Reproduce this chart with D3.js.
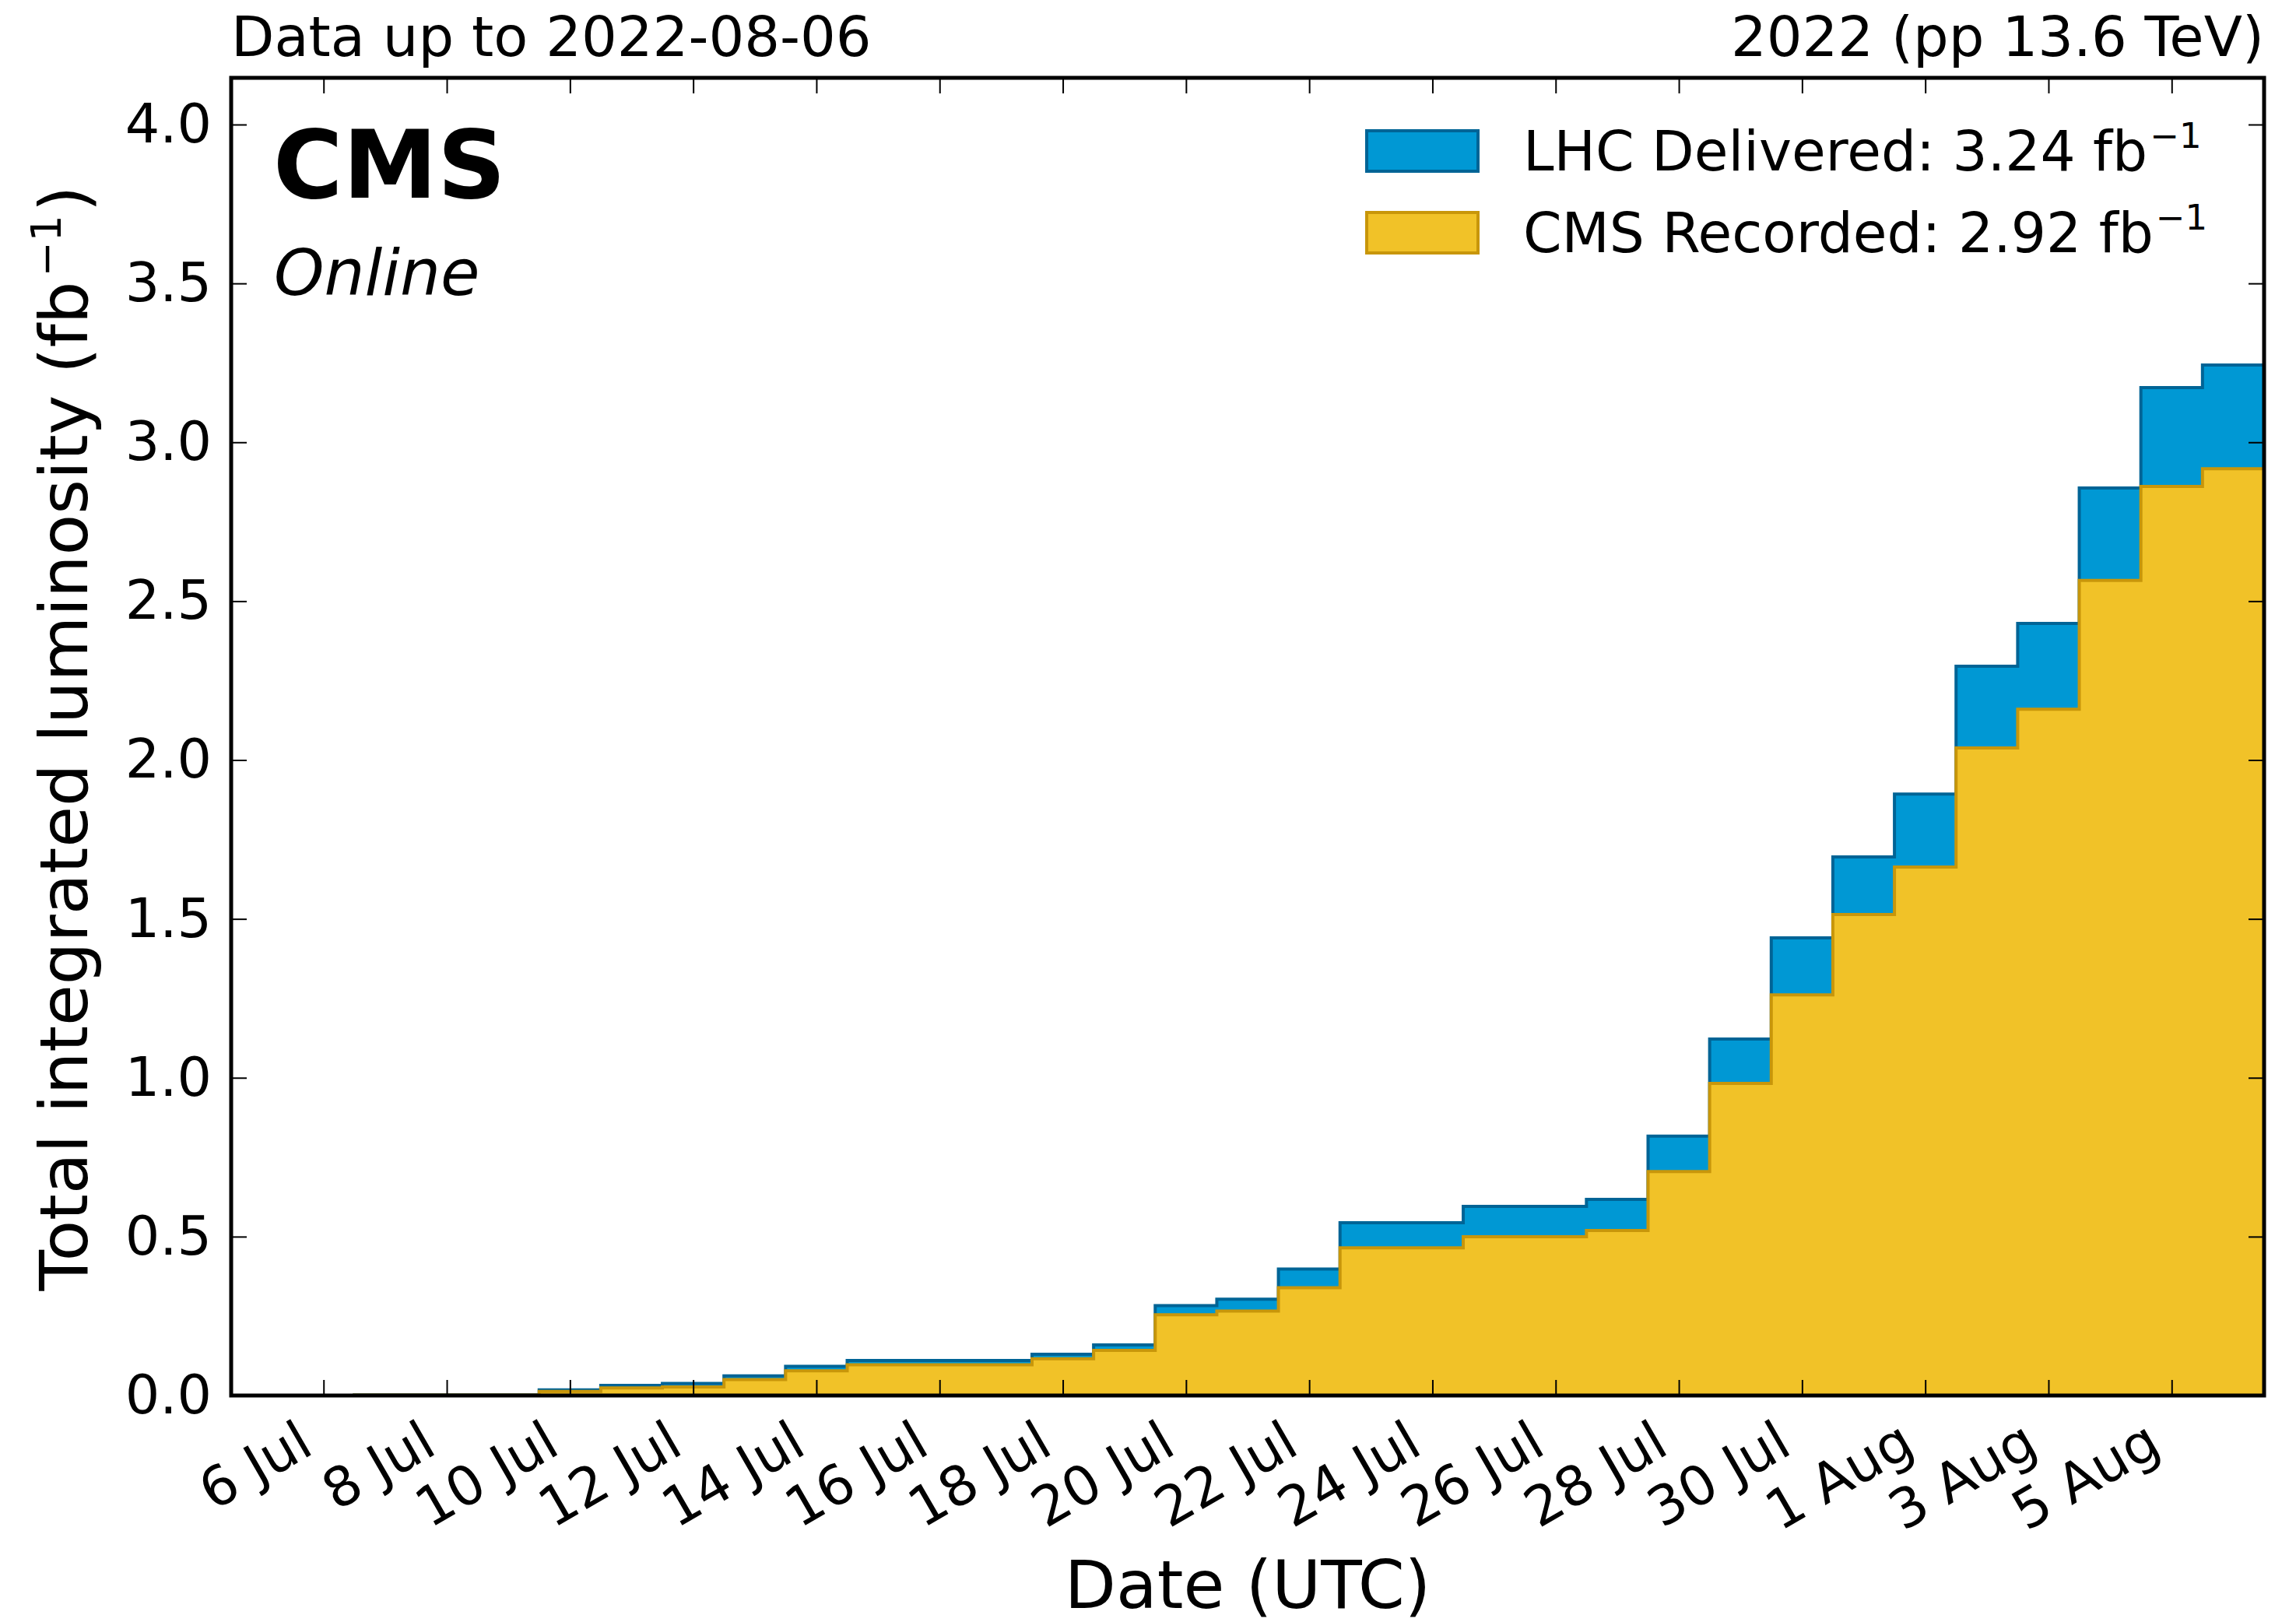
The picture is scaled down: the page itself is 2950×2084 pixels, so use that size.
<!doctype html>
<html lang="en">
<head>
  <meta charset="utf-8">
  <title>CMS integrated luminosity 2022</title>
  <script src="https://d3js.org/d3.v7.min.js"></script>
  <style>
    body {
      margin: 0px;
      background: #ffffff;
    }
    text {
      font-family: "DejaVu Sans", sans-serif;
      fill: #000000;
    }
  </style>
</head>
<body>
  <div id="container"></div>

  <script>
    // one bin per day (UTC), cumulative luminosity in fb^-1
    var days = [
      "2022-07-05", "2022-07-06", "2022-07-07", "2022-07-08", "2022-07-09",
      "2022-07-10", "2022-07-11", "2022-07-12", "2022-07-13", "2022-07-14",
      "2022-07-15", "2022-07-16", "2022-07-17", "2022-07-18", "2022-07-19",
      "2022-07-20", "2022-07-21", "2022-07-22", "2022-07-23", "2022-07-24",
      "2022-07-25", "2022-07-26", "2022-07-27", "2022-07-28", "2022-07-29",
      "2022-07-30", "2022-07-31", "2022-08-01", "2022-08-02", "2022-08-03",
      "2022-08-04", "2022-08-05", "2022-08-06"
    ];
    var delivered = [
      0, 0, 0.002, 0.002, 0.002,
      0.018, 0.032, 0.038, 0.062, 0.092,
      0.110, 0.110, 0.110, 0.130, 0.159,
      0.283, 0.303, 0.398, 0.544, 0.544,
      0.595, 0.595, 0.617, 0.816, 1.122,
      1.440, 1.695, 1.893, 2.295, 2.430,
      2.856, 3.172, 3.243
    ];
    var recorded = [
      0, 0, 0.001, 0.001, 0.001,
      0.013, 0.024, 0.027, 0.050, 0.078,
      0.097, 0.097, 0.097, 0.116, 0.142,
      0.254, 0.266, 0.339, 0.465, 0.465,
      0.500, 0.500, 0.519, 0.705, 0.982,
      1.261, 1.514, 1.663, 2.038, 2.160,
      2.565, 2.861, 2.917
    ];
    var xTickDays = [
      "2022-07-06", "2022-07-08", "2022-07-10", "2022-07-12", "2022-07-14",
      "2022-07-16", "2022-07-18", "2022-07-20", "2022-07-22", "2022-07-24",
      "2022-07-26", "2022-07-28", "2022-07-30", "2022-08-01", "2022-08-03",
      "2022-08-05"
    ];
    var yTicks = [0, 0.5, 1.0, 1.5, 2.0, 2.5, 3.0, 3.5, 4.0];
    var yMax = 4.147;

    var totalDelivered = "3.24";
    var totalRecorded = "2.92";

    var colDelFill = "rgb(0,152,212)", colDelLine = "rgb(0,100,150)";
    var colRecFill = "rgb(241,194,40)", colRecLine = "rgb(200,150,10)";

    var W = 2950, H = 2084;
    var plotL = 297, plotR = 2909, plotT = 100, plotB = 1793;

    var svg = d3.select("#container").append("svg")
        .attr("width", W)
        .attr("height", H);

    svg.append("rect")
        .attr("width", W).attr("height", H)
        .attr("fill", "#ffffff");

    var parseDay = d3.utcParse("%Y-%m-%d");
    var halfDay = 12 * 3600 * 1000;

    var x = d3.scaleUtc()
        .domain([new Date(parseDay("2022-07-04").getTime() + halfDay),
                 new Date(parseDay(days[days.length - 1]).getTime() + halfDay)])
        .range([plotL, plotR]);

    var y = d3.scaleLinear()
        .domain([0, yMax])
        .range([plotB, plotT]);

    // bin edges sit at noon, each bin covering one day
    function stepPoints(values) {
      var pts = days.map(function (d, i) {
        return { t: new Date(parseDay(d).getTime() - halfDay), v: values[i] };
      });
      pts.push({
        t: new Date(parseDay(days[days.length - 1]).getTime() + halfDay),
        v: values[values.length - 1]
      });
      return pts;
    }

    var area = d3.area()
        .curve(d3.curveStepAfter)
        .x(function (d) { return x(d.t); })
        .y0(y(0))
        .y1(function (d) { return y(d.v); });

    svg.append("clipPath").attr("id", "plot-clip")
      .append("rect")
        .attr("x", plotL).attr("y", plotT)
        .attr("width", plotR - plotL).attr("height", plotB - plotT);

    var plot = svg.append("g").attr("clip-path", "url(#plot-clip)");

    plot.append("path")
        .datum(stepPoints(delivered))
        .attr("d", area)
        .attr("fill", colDelFill)
        .attr("stroke", colDelLine)
        .attr("stroke-width", 4)
        .attr("stroke-linejoin", "miter");

    plot.append("path")
        .datum(stepPoints(recorded))
        .attr("d", area)
        .attr("fill", colRecFill)
        .attr("stroke", colRecLine)
        .attr("stroke-width", 4)
        .attr("stroke-linejoin", "miter");

    var xTicks = xTickDays.map(function (d) { return parseDay(d); });
    var fmtDay = d3.utcFormat("%-d %b");

    function styleAxis(g) {
      g.select(".domain").remove();
      g.selectAll(".tick line").attr("stroke", "#000").attr("stroke-width", 2);
      g.attr("font-family", null).attr("font-size", null);
      g.selectAll("text").attr("font-size", 70).attr("fill", "#000");
    }

    // bottom axis, ticks pointing in, rotated labels
    var gx = svg.append("g")
        .attr("transform", "translate(0," + plotB + ")")
        .call(d3.axisBottom(x).tickValues(xTicks).tickFormat(fmtDay).tickSize(-20));
    styleAxis(gx);
    gx.selectAll(".tick text")
        .attr("x", -11)
        .attr("y", 73)
        .attr("dy", null)
        .attr("text-anchor", "end")
        .attr("transform", "rotate(-30,-11,73)");

    svg.append("g")
        .attr("transform", "translate(0," + plotT + ")")
        .call(d3.axisTop(x).tickValues(xTicks).tickFormat("").tickSize(-20))
        .call(styleAxis);

    var gy = svg.append("g")
        .attr("transform", "translate(" + plotL + ",0)")
        .call(d3.axisLeft(y).tickValues(yTicks).tickFormat(d3.format(".1f"))
              .tickSize(-20).tickPadding(25));
    styleAxis(gy);

    svg.append("g")
        .attr("transform", "translate(" + plotR + ",0)")
        .call(d3.axisRight(y).tickValues(yTicks).tickFormat("").tickSize(-20))
        .call(styleAxis);

    // frame
    svg.append("rect")
        .attr("x", plotL).attr("y", plotT)
        .attr("width", plotR - plotL).attr("height", plotB - plotT)
        .attr("fill", "none")
        .attr("stroke", "#000")
        .attr("stroke-width", 5);

    // titles above the frame
    svg.append("text")
        .attr("x", plotL).attr("y", 72)
        .attr("font-size", 72)
        .text("Data up to 2022-08-06");

    svg.append("text")
        .attr("x", plotR).attr("y", 72)
        .attr("font-size", 72)
        .attr("text-anchor", "end")
        .text("2022 (pp 13.6 TeV)");

    svg.append("text")
        .attr("x", 351).attr("y", 254)
        .attr("font-size", 122)
        .attr("font-weight", "bold")
        .text("CMS");

    svg.append("text")
        .attr("x", 352).attr("y", 379)
        .attr("font-size", 82)
        .attr("font-style", "italic")
        .text("Online");

    // legend
    var legendItems = [
      { label: "LHC Delivered: " + totalDelivered + " fb", fill: colDelFill, line: colDelLine },
      { label: "CMS Recorded: " + totalRecorded + " fb", fill: colRecFill, line: colRecLine }
    ];

    var legend = svg.append("g")
        .selectAll("g")
        .data(legendItems)
        .enter()
        .append("g")
        .attr("transform", function (d, i) { return "translate(0," + (i * 105) + ")"; });

    legend.append("rect")
        .attr("x", 1756).attr("y", 168)
        .attr("width", 143).attr("height", 52)
        .attr("fill", function (d) { return d.fill; })
        .attr("stroke", function (d) { return d.line; })
        .attr("stroke-width", 4);

    var legendText = legend.append("text")
        .attr("x", 1957).attr("y", 219)
        .attr("font-size", 71);
    legendText.append("tspan").text(function (d) { return d.label; });
    legendText.append("tspan")
        .attr("dy", -29)
        .attr("dx", 3)
        .attr("font-size", 45)
        .text("\u22121");

    // axis titles
    var yLabel = svg.append("text")
        .attr("transform", "translate(112," + ((plotT + plotB) / 2 + 2) + ") rotate(-90)")
        .attr("text-anchor", "middle")
        .attr("font-size", 86);
    yLabel.append("tspan").text("Total integrated luminosity (fb");
    yLabel.append("tspan").attr("dy", -34).attr("dx", 6).attr("font-size", 54).text("\u22121");
    yLabel.append("tspan").attr("dy", 34).attr("dx", 4).text(")");

    svg.append("text")
        .attr("x", (plotL + plotR) / 2)
        .attr("y", 2066)
        .attr("text-anchor", "middle")
        .attr("font-size", 86)
        .text("Date (UTC)");
  </script>
</body>
</html>
